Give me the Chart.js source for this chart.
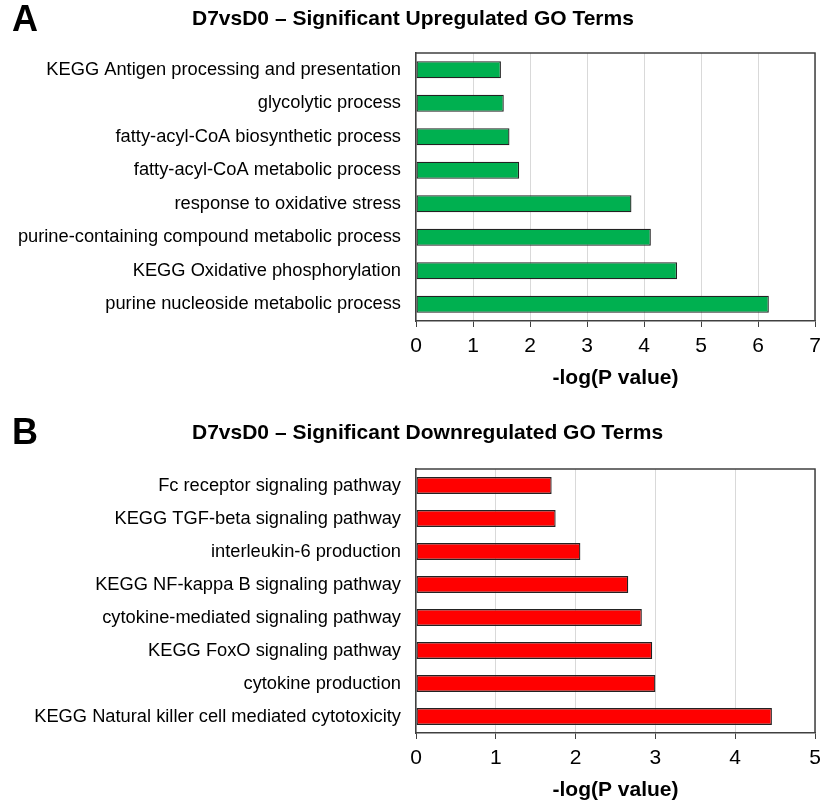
<!DOCTYPE html>
<html>
<head>
<meta charset="utf-8">
<script src="https://cdn.jsdelivr.net/npm/chart.js@4.4.1/dist/chart.umd.min.js"></script>
<style>
  html, body { margin: 0; padding: 0; background: #fff; }
  .panel { position: absolute; left: 0; width: 820px; }
  #panelA { top: 0; height: 400px; }
  #panelB { top: 400px; height: 401px; }
</style>
</head>
<body>
<div class="panel" id="panelA"><canvas id="chartA"></canvas></div>
<div class="panel" id="panelB"><canvas id="chartB"></canvas></div>
<script>
// data
const upTerms = [
  'KEGG Antigen processing and presentation',
  'glycolytic process',
  'fatty-acyl-CoA biosynthetic process',
  'fatty-acyl-CoA metabolic process',
  'response to oxidative stress',
  'purine-containing compound metabolic process',
  'KEGG Oxidative phosphorylation',
  'purine nucleoside metabolic process'
];
const upValues = [1.49, 1.54, 1.64, 1.81, 3.78, 4.12, 4.58, 6.19];
const upTicks = [0, 1, 2, 3, 4, 5, 6, 7];

const downTerms = [
  'Fc receptor signaling pathway',
  'KEGG TGF-beta signaling pathway',
  'interleukin-6 production',
  'KEGG NF-kappa B signaling pathway',
  'cytokine-mediated signaling pathway',
  'KEGG FoxO signaling pathway',
  'cytokine production',
  'KEGG Natural killer cell mediated cytotoxicity'
];
const downValues = [1.70, 1.75, 2.06, 2.66, 2.83, 2.96, 3.00, 4.46];
const downTicks = [0, 1, 2, 3, 4, 5];

const FONT = '"Liberation Sans", Arial, sans-serif';

// draws panel letter, heading, frame and the x axis caption
const decor = {
  id: 'decor',
  afterDraw(chart, args, opts) {
    const ctx = chart.ctx;
    const a = chart.chartArea;
    ctx.save();
    ctx.strokeStyle = '#404040';
    ctx.lineWidth = 1.5;
    ctx.beginPath();
    ctx.moveTo(a.left, a.top);
    ctx.lineTo(a.right, a.top);
    ctx.lineTo(a.right, a.bottom);
    ctx.stroke();

    ctx.fillStyle = '#000';
    ctx.textBaseline = 'middle';
    ctx.textAlign = 'left';
    ctx.font = 'bold 36px ' + FONT;
    ctx.fillText(opts.letter, 12, opts.letterY);
    ctx.font = 'bold 21px ' + FONT;
    ctx.fillText(opts.heading, 192, opts.headingY);

    ctx.textAlign = 'center';
    ctx.font = 'bold 21px ' + FONT;
    ctx.fillText('-log(P value)', (a.left + a.right) / 2, a.bottom + 57);
    ctx.restore();
  }
};

function makeChart(id, terms, values, ticks, color, letter, heading, top, letterY, headingY, xHeight) {
  const max = ticks[ticks.length - 1];
  return new Chart(document.getElementById(id), {
    type: 'bar',
    data: {
      labels: terms,
      datasets: [{
        data: values,
        backgroundColor: color,
        borderColor: '#222',
        borderWidth: 1.3,
        borderSkipped: false,
        barPercentage: 0.51,
        categoryPercentage: 1
      }]
    },
    plugins: [decor],
    options: {
      indexAxis: 'y',
      responsive: true,
      maintainAspectRatio: false,
      animation: false,
      layout: { padding: { top: top, right: 5, left: 0, bottom: 0 } },
      plugins: {
        legend: { display: false },
        tooltip: { enabled: false },
        decor: { letter: letter, heading: heading, letterY: letterY, headingY: headingY }
      },
      scales: {
        x: {
          min: 0,
          max: max,
          afterBuildTicks: s => { s.ticks = ticks.map(v => ({ value: v })); },
          afterFit: s => { s.height = xHeight; s.paddingRight = 0; s.paddingLeft = 0; },
          border: { color: '#404040', width: 1.5 },
          grid: {
            color: '#d9d9d9',
            lineWidth: 1,
            tickColor: '#404040',
            tickLength: 6
          },
          ticks: {
            color: '#000',
            padding: 7,
            font: { family: FONT, size: 21 }
          }
        },
        y: {
          afterFit: s => { s.width = 416; },
          border: { color: '#404040', width: 1.5 },
          grid: { display: false, drawTicks: false },
          ticks: {
            color: '#000',
            padding: 15,
            font: { family: FONT, size: 18.3 }
          }
        }
      }
    }
  });
}

makeChart('chartA', upTerms, upValues, upTicks, '#00b050',
  'A', 'D7vsD0 \u2013 Significant Upregulated GO Terms', 53, 21, 19, 79);
makeChart('chartB', downTerms, downValues, downTicks, '#ff0000',
  'B', 'D7vsD0 \u2013 Significant Downregulated GO Terms', 69, 34, 33, 68);
</script>
</body>
</html>
